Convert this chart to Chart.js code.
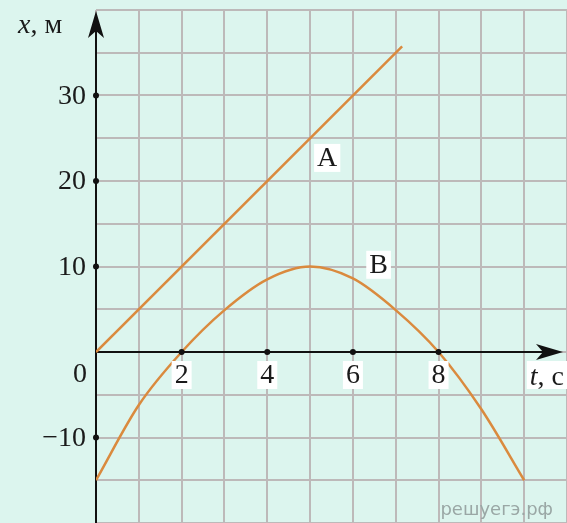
<!DOCTYPE html>
<html>
<head>
<meta charset="utf-8">
<script src="https://cdn.jsdelivr.net/npm/chart.js@4"></script>
<style>
  html, body { margin: 0; padding: 0; background: #dcf5ee; }
</style>
</head>
<body>
<canvas id="myChart" width="567" height="523"></canvas>
<script>
// line A (straight, x = 5t)
var tA = [0, 7.15];
var xA = [0, 35.75];

// curve B
var tB = [0, 1, 2, 3, 4, 5, 6, 7, 8, 9, 10];
var xB = [-15, -6.2, 0, 4.9, 8.5, 10, 8.6, 4.9, 0, -6.7, -15];

// tick labels
var tTicks = [2, 4, 6, 8];
var xTicks = [30, 20, 10, -10];

var serif = '"Liberation Serif", "Times New Roman", serif';
var curveColor = '#da8a3e';
var fontPx = 28;

function pts(ts, vs) {
    return ts.map(function (t, i) { return {x: t, y: vs[i]}; });
}

function boxText(ctx, text, x, y, align) {
    var w = ctx.measureText(text).width;
    var left = align === 'right' ? x - w : (align === 'left' ? x : x - w / 2);
    ctx.fillStyle = '#ffffff';
    ctx.fillRect(left - 3, y - 14, w + 6, 28);
    ctx.fillStyle = '#1a1a1a';
    ctx.fillText(text, x, y + 1);
}

var axesPlugin = {
    id: 'axes',
    beforeDraw: function (chart) {
        var ctx = chart.ctx;
        ctx.save();
        ctx.fillStyle = '#dcf5ee';
        ctx.fillRect(0, 0, chart.width, chart.height);
        ctx.restore();
    },
    beforeDatasetsDraw: function (chart) {
        var ctx = chart.ctx;
        var sx = chart.scales.x, sy = chart.scales.y;
        var x0 = sx.getPixelForValue(0), y0 = sy.getPixelForValue(0);
        ctx.save();
        ctx.strokeStyle = '#111';
        ctx.fillStyle = '#111';
        ctx.lineWidth = 2;
        // y axis
        ctx.beginPath();
        ctx.moveTo(x0, chart.height);
        ctx.lineTo(x0, 16);
        ctx.stroke();
        ctx.beginPath();
        ctx.moveTo(x0, 11);
        ctx.lineTo(x0 + 8, 38);
        ctx.lineTo(x0, 31);
        ctx.lineTo(x0 - 8, 38);
        ctx.closePath();
        ctx.fill();
        // x axis
        var xe = 563;
        ctx.beginPath();
        ctx.moveTo(x0, y0);
        ctx.lineTo(xe - 4, y0);
        ctx.stroke();
        ctx.beginPath();
        ctx.moveTo(xe, y0);
        ctx.lineTo(xe - 27, y0 - 8);
        ctx.lineTo(xe - 20, y0);
        ctx.lineTo(xe - 27, y0 + 8);
        ctx.closePath();
        ctx.fill();
        ctx.restore();
    },
    afterDatasetsDraw: function (chart) {
        var ctx = chart.ctx;
        var sx = chart.scales.x, sy = chart.scales.y;
        var x0 = sx.getPixelForValue(0), y0 = sy.getPixelForValue(0);
        ctx.save();
        ctx.fillStyle = '#111';
        // tick dots
        tTicks.forEach(function (t) {
            ctx.beginPath();
            ctx.arc(sx.getPixelForValue(t), y0, 3, 0, Math.PI * 2);
            ctx.fill();
        });
        xTicks.forEach(function (v) {
            ctx.beginPath();
            ctx.arc(x0, sy.getPixelForValue(v), 3, 0, Math.PI * 2);
            ctx.fill();
        });
        ctx.font = fontPx + 'px ' + serif;
        ctx.textBaseline = 'middle';
        // t tick labels
        ctx.textAlign = 'center';
        tTicks.forEach(function (t) {
            boxText(ctx, String(t), sx.getPixelForValue(t), y0 + 23, 'center');
        });
        // x tick labels
        ctx.textAlign = 'right';
        xTicks.forEach(function (v) {
            var s = v < 0 ? '\u2212' + Math.abs(v) : String(v);
            ctx.fillStyle = '#1a1a1a';
            ctx.fillText(s, x0 - 10, sy.getPixelForValue(v) + 1);
        });
        ctx.fillText('0', x0 - 9, y0 + 23);

        // axis names
        ctx.textAlign = 'left';
        ctx.textBaseline = 'alphabetic';
        ctx.font = 'italic ' + fontPx + 'px ' + serif;
        ctx.fillText('x', 18, 33);
        var wx = ctx.measureText('x').width;
        ctx.font = fontPx + 'px ' + serif;
        ctx.fillText(', \u043c', 18 + wx, 33);

        ctx.font = fontPx + 'px ' + serif;
        var wt2 = ctx.measureText(', c').width;
        ctx.font = 'italic ' + fontPx + 'px ' + serif;
        var wt = ctx.measureText('t').width;
        var tx = 564 - wt - wt2;
        ctx.fillStyle = '#ffffff';
        ctx.fillRect(tx - 3, y0 + 9, wt + wt2 + 6, 28);
        ctx.fillStyle = '#1a1a1a';
        ctx.fillText('t', tx, y0 + 33);
        ctx.font = fontPx + 'px ' + serif;
        ctx.fillText(', c', tx + wt, y0 + 33);

        // curve names
        ctx.textAlign = 'center';
        ctx.textBaseline = 'middle';
        boxText(ctx, 'A', sx.getPixelForValue(5.4), sy.getPixelForValue(22.7), 'center');
        boxText(ctx, 'B', sx.getPixelForValue(6.6), sy.getPixelForValue(10.2), 'center');

        // watermark
        ctx.textAlign = 'right';
        ctx.textBaseline = 'alphabetic';
        ctx.font = '18px "DejaVu Sans", sans-serif';
        ctx.fillStyle = '#9aa7a5';
        ctx.fillText('\u0440\u0435\u0448\u0443\u0435\u0433\u044d.\u0440\u0444', 553, 515);
        ctx.restore();
    }
};

var ctx = document.getElementById('myChart').getContext('2d');
var chart = new Chart(ctx, {
    type: 'scatter',
    data: {
        datasets: [{
            label: 'A',
            data: pts(tA, xA),
            showLine: true,
            borderColor: curveColor,
            borderWidth: 2.5,
            pointRadius: 0,
            fill: false
        }, {
            label: 'B',
            data: pts(tB, xB),
            showLine: true,
            borderColor: curveColor,
            borderWidth: 2.5,
            pointRadius: 0,
            cubicInterpolationMode: 'monotone',
            fill: false
        }]
    },
    options: {
        responsive: false,
        animation: false,
        layout: { padding: { left: 96, top: 10, right: 0, bottom: 0 } },
        plugins: { legend: { display: false }, tooltip: { enabled: false } },
        scales: {
            x: {
                type: 'linear',
                min: 0, max: 11,
                ticks: { display: false, stepSize: 1 },
                grid: { color: '#bdb9b9', lineWidth: 2, drawTicks: false },
                border: { display: false }
            },
            y: {
                type: 'linear',
                min: -20, max: 40,
                ticks: { display: false, stepSize: 5 },
                grid: { color: '#bdb9b9', lineWidth: 2, drawTicks: false },
                border: { display: false }
            }
        }
    },
    plugins: [axesPlugin]
});
</script>
</body>
</html>
